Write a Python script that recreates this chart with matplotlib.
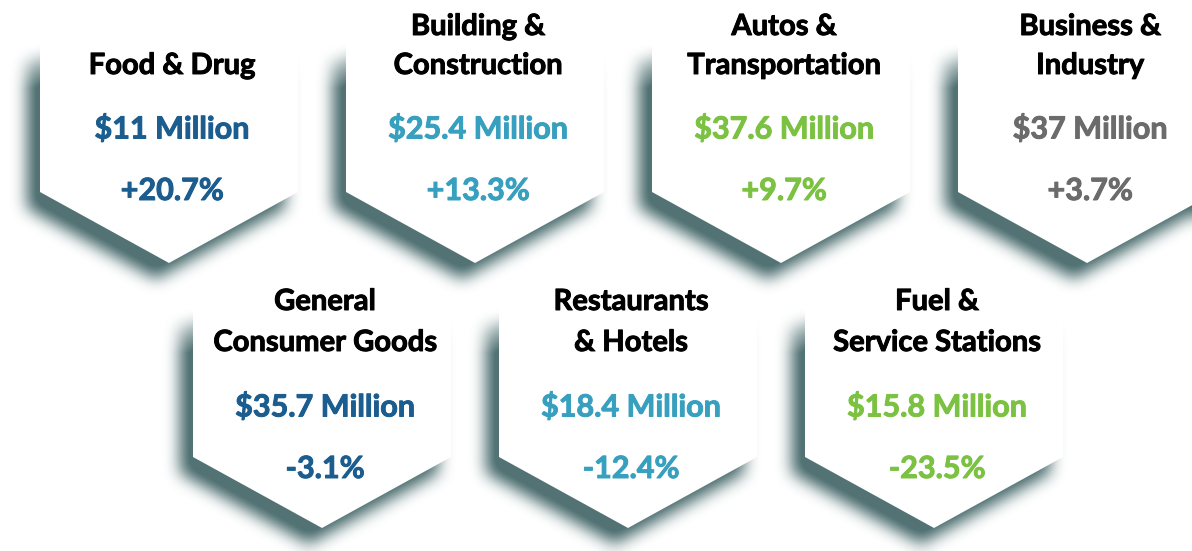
import numpy as np
import matplotlib
matplotlib.use("Agg")
import matplotlib.pyplot as plt
import matplotlib.patheffects as pe
from matplotlib.path import Path
from matplotlib.patches import Polygon

plt.rcParams['font.family'] = ['Lato', 'DejaVu Sans']

# ---- data -------------------------------------------------------------
categories = ["Food & Drug", "Building &\nConstruction", "Autos &\nTransportation",
              "Business &\nIndustry", "General\nConsumer Goods",
              "Restaurants\n& Hotels", "Fuel &\nService Stations"]
sales = ["$11 Million", "$25.4 Million", "$37.6 Million", "$37 Million",
         "$35.7 Million", "$18.4 Million", "$15.8 Million"]
change = ["+20.7%", "+13.3%", "+9.7%", "+3.7%", "-3.1%", "-12.4%", "-23.5%"]
colors = ["#1b5d8f", "#38a0bf", "#7cc242", "#6b6b6b",
          "#1b5d8f", "#38a0bf", "#7cc242"]

# ---- layout (pixel coords) ---------------------------------------------
W, H = 1192, 551
half_w = 129          # half width of a hexagon
side = 149            # vertical edge length
drop = 71             # bottom point drop below the lower corners
rows = [dict(cx=[169, 475, 781, 1087], corner=192, title=(27, 66), val=129, pct=191),
        dict(cx=[322, 628, 934], corner=457, title=(302, 343), val=407, pct=469)]


def hexagon(cx, corner):
    top = corner - side
    return np.array([[cx - half_w, corner], [cx, corner + drop], [cx + half_w, corner],
                     [cx + half_w, top], [cx, top - drop], [cx - half_w, top]])


def blur(img, r, n=3):
    for _ in range(n):
        for axis in (0, 1):
            pad = [(0, 0), (0, 0)]
            pad[axis] = (r + 1, r)
            c = np.cumsum(np.pad(img, pad, mode='edge'), axis=axis)
            if axis == 0:
                img = (c[2 * r + 1:] - c[:-2 * r - 1]) / (2 * r + 1)
            else:
                img = (c[:, 2 * r + 1:] - c[:, :-2 * r - 1]) / (2 * r + 1)
    return img


fig = plt.figure(figsize=(W / 100, H / 100), dpi=100)
ax = fig.add_axes([0, 0, 1, 1])
ax.set_xlim(0, W)
ax.set_ylim(H, 0)
ax.axis('off')

# shadow raster
yy, xx = np.mgrid[0:H, 0:W] + 0.5
pts = np.column_stack([xx.ravel(), yy.ravel()])
alpha = np.zeros((H, W))
hexes = []
for row in rows:
    for cx in row['cx']:
        poly = hexagon(cx, row['corner'])
        hexes.append(poly)
        m = Path(poly + [-13, 16]).contains_points(pts).reshape(H, W).astype(float)
        m = blur(m, 7)
        fade = np.clip((yy - (row['corner'] - side)) / 45.0, 0, 1)
        alpha = np.maximum(alpha, m * fade)

rgba = np.zeros((H, W, 4))
rgba[..., 0], rgba[..., 1], rgba[..., 2] = 0.20, 0.35, 0.36
rgba[..., 3] = np.clip(alpha * 0.95, 0, 0.85)
ax.imshow(rgba, extent=(0, W, H, 0), interpolation='bilinear', zorder=1)

for poly in hexes:
    ax.add_patch(Polygon(poly, closed=True, facecolor='white', edgecolor='none', zorder=2))

# ---- text -------------------------------------------------------------
def label(x, y, s, size, color):
    ax.text(x, y, s, ha='center', va='center', fontsize=size, fontweight='bold',
            color=color, zorder=3,
            path_effects=[pe.withStroke(linewidth=0.7, foreground=color)])


i = 0
for row in rows:
    for cx in row['cx']:
        tx = cx + 3
        lines = categories[i].split("\n")
        for ly, line in zip(row['title'][-len(lines):], lines):
            label(tx, ly, line, 21, 'black')
        label(tx, row['val'], sales[i], 22, colors[i])
        label(tx, row['pct'], change[i], 22, colors[i])
        i += 1

fig.savefig("out.png", dpi=100)
